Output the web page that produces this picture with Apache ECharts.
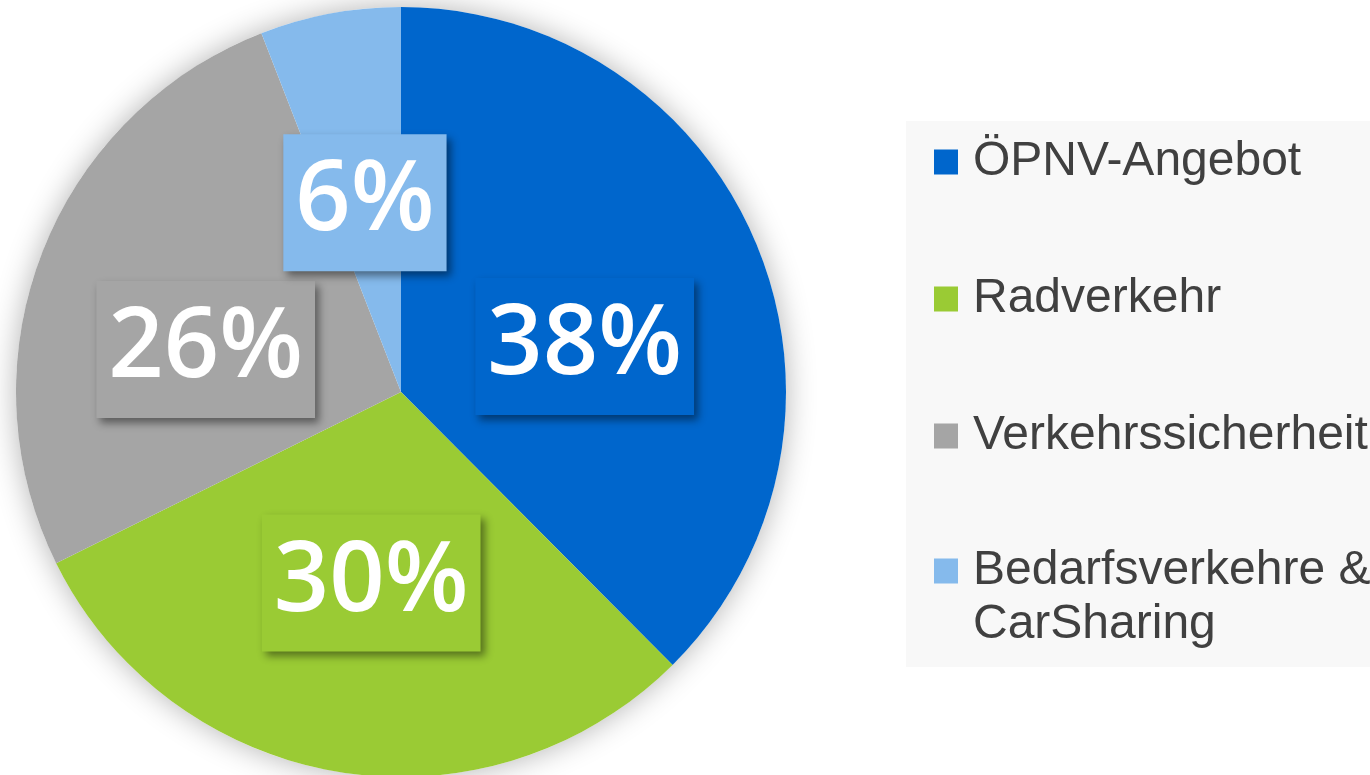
<!DOCTYPE html>
<html>
<head>
<meta charset="utf-8">
<script src="https://cdn.jsdelivr.net/npm/echarts@6/dist/echarts.min.js"></script>
<style>
  html, body { margin: 0; padding: 0; background: #fff; }
  #chart { width: 1370px; height: 775px; }
</style>
</head>
<body>
<div id="chart"></div>
<script>
const categories = ['ÖPNV-Angebot', 'Radverkehr', 'Verkehrssicherheit', 'Bedarfsverkehre &\nCarSharing'];
const shares = [37.5, 30.1, 26.4, 5.9];
const colors = ['#0066cc', '#9acb34', '#a5a5a5', '#85baec'];

// small nudges so the boxes sit where the original has them
const labelNudge = [[3, 29], [2, -2], [-13, 28], [0, 3]];

const PIE_CENTER = [401, 392];
const PIE_RADIUS = 385;

function sliceData() {
  return categories.map((name, i) => ({
    name,
    value: shares[i],
    itemStyle: { color: colors[i] },
    label: { backgroundColor: colors[i], offset: labelNudge[i] },
  }));
}

const legendText = {
  fontFamily: 'Liberation Sans, Arial, sans-serif',
  fontSize: 48,
  lineHeight: 54,
  color: '#404040',
  padding: [0, 0, 0, 10],
};

const chart = echarts.init(document.getElementById('chart'));

chart.setOption({
  animation: false,
  backgroundColor: '#fff',
  graphic: [
    {
      type: 'rect',
      left: 906,
      top: 121,
      silent: true,
      z: 0,
      shape: { width: 470, height: 546 },
      style: { fill: '#f8f8f8' },
    },
  ],
  legend: [
    {
      orient: 'vertical',
      left: 934,
      top: 135,
      padding: 0,
      itemGap: 83,
      itemWidth: 24,
      itemHeight: 25,
      icon: 'rect',
      selectedMode: false,
      itemStyle: { borderWidth: 0 },
      textStyle: legendText,
      data: categories.slice(0, 3),
    },
    {
      // two-line entry: an empty first line keeps the square level with "Bedarfsverkehre &"
      orient: 'vertical',
      left: 934,
      top: 571 - 81,
      padding: 0,
      itemWidth: 24,
      itemHeight: 25,
      icon: 'rect',
      selectedMode: false,
      itemStyle: { borderWidth: 0 },
      textStyle: legendText,
      formatter: (name) => '\n' + name,
      data: categories.slice(3),
    },
  ],
  series: [
    {
      // plain disc underneath, only to cast the soft shadow
      type: 'pie',
      name: 'shadow',
      silent: true,
      center: PIE_CENTER,
      radius: PIE_RADIUS,
      label: { show: false },
      labelLine: { show: false },
      itemStyle: {
        color: '#ffffff',
        borderWidth: 0,
        shadowBlur: 30,
        shadowColor: 'rgba(0, 0, 0, 0.3)',
      },
      data: [{ name: '', value: 1 }],
    },
    {
      type: 'pie',
      name: 'Anteile',
      center: PIE_CENTER,
      radius: PIE_RADIUS,
      startAngle: 90,
      clockwise: true,
      avoidLabelOverlap: false,
      emphasis: { disabled: true },
      itemStyle: { borderWidth: 0 },
      label: {
        show: true,
        position: 'inside',
        formatter: (p) => `${Math.round(p.value)}%`,
        fontFamily: 'Open Sans, sans-serif',
        fontWeight: 600,
        fontSize: 97,
        lineHeight: 97,
        color: '#ffffff',
        padding: [20, 12],
        shadowBlur: 8,
        shadowOffsetX: 4,
        shadowOffsetY: 5,
        shadowColor: 'rgba(0, 0, 0, 0.45)',
      },
      labelLine: { show: false },
      data: sliceData(),
    },
  ],
});
</script>
</body>
</html>
